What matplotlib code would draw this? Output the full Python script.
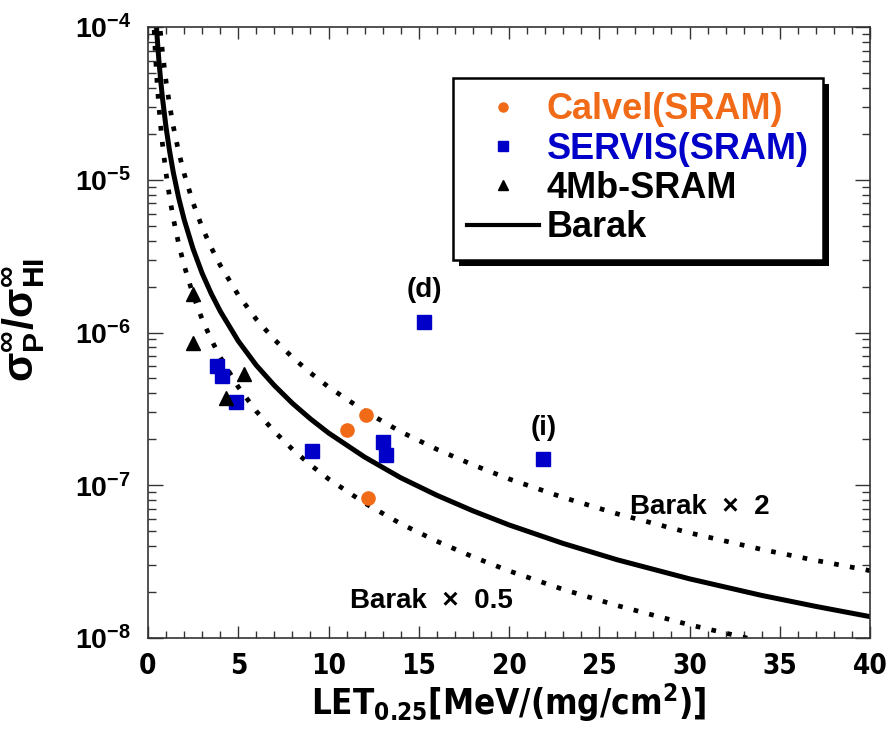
import matplotlib
matplotlib.use("Agg")
import matplotlib.pyplot as plt
from matplotlib import font_manager
from matplotlib.font_manager import FontProperties
from matplotlib.lines import Line2D
from matplotlib.ticker import FixedLocator, MultipleLocator, NullFormatter
import matplotlib.patheffects as pe

# pick fonts (a narrow bold face for the x axis texts if there is one)
names = {f.name for f in font_manager.fontManager.ttflist}
SANS = "Liberation Sans" if "Liberation Sans" in names else "DejaVu Sans"
narrow_file = None
for key in ["LiberationSansNarrow-Bold", "DejaVuSansCondensed-Bold",
            "RobotoCondensed-Bold", "OpenSans_Condensed-Bold"]:
    for f in font_manager.fontManager.ttflist:
        if key.lower() in f.fname.lower().replace(" ", ""):
            narrow_file = f.fname
            break
    if narrow_file:
        break

plt.rcParams["font.family"] = SANS
plt.rcParams["font.weight"] = "bold"
plt.rcParams["mathtext.fontset"] = "custom"
plt.rcParams["mathtext.rm"] = SANS + ":bold"
plt.rcParams["mathtext.bf"] = SANS + ":bold"
plt.rcParams["mathtext.it"] = SANS + ":bold"


def narrow(size):
    if narrow_file:
        return FontProperties(fname=narrow_file, size=size)
    return FontProperties(family=SANS, weight="bold", size=size)


# ---------------------------------------------------------------- data
# Barak curve, plus the x2 / x0.5 bands
let_curve = [0.3, 0.4, 0.5, 0.6, 0.7, 0.8, 1.0, 1.2, 1.4, 1.7, 2.0, 2.5, 3, 3.5,
             4, 5, 6, 7, 8, 9, 10, 12, 14, 16, 18, 20, 23, 26, 30, 34, 37, 40]
barak = [2.44e-4, 1.38e-4, 8.8e-5, 6.1e-5, 4.5e-5, 3.44e-5, 2.2e-5, 1.53e-5,
         1.12e-5, 7.6e-6, 5.5e-6, 3.52e-6, 2.44e-6, 1.8e-6, 1.38e-6, 8.8e-7,
         6.1e-7, 4.5e-7, 3.44e-7, 2.72e-7, 2.2e-7, 1.53e-7, 1.12e-7, 8.6e-8,
         6.8e-8, 5.5e-8, 4.16e-8, 3.25e-8, 2.44e-8, 1.9e-8, 1.61e-8, 1.38e-8]
barak_x2 = [4.88e-4, 2.76e-4, 1.76e-4, 1.22e-4, 9.0e-5, 6.88e-5, 4.4e-5, 3.06e-5,
            2.24e-5, 1.52e-5, 1.1e-5, 7.04e-6, 4.88e-6, 3.6e-6, 2.76e-6, 1.76e-6,
            1.22e-6, 9.0e-7, 6.88e-7, 5.44e-7, 4.4e-7, 3.06e-7, 2.24e-7, 1.72e-7,
            1.36e-7, 1.1e-7, 8.32e-8, 6.5e-8, 4.88e-8, 3.8e-8, 3.22e-8, 2.76e-8]
barak_x05 = [1.22e-4, 6.9e-5, 4.4e-5, 3.05e-5, 2.25e-5, 1.72e-5, 1.1e-5, 7.65e-6,
             5.6e-6, 3.8e-6, 2.75e-6, 1.76e-6, 1.22e-6, 9.0e-7, 6.9e-7, 4.4e-7,
             3.05e-7, 2.25e-7, 1.72e-7, 1.36e-7, 1.1e-7, 7.65e-8, 5.6e-8, 4.3e-8,
             3.4e-8, 2.75e-8, 2.08e-8, 1.63e-8, 1.22e-8, 9.5e-9, 8.05e-9, 6.9e-9]

calvel_x = [11.0, 12.1, 12.2]
calvel_y = [2.3e-7, 2.88e-7, 8.2e-8]

servis_x = [3.8, 4.1, 4.9, 9.1, 13.0, 13.2, 15.3, 21.9]
servis_y = [6.0e-7, 5.2e-7, 3.5e-7, 1.67e-7, 1.92e-7, 1.58e-7, 1.17e-6, 1.49e-7]

sram4_x = [2.5, 2.5, 5.3, 4.3]
sram4_y = [1.8e-6, 8.5e-7, 5.35e-7, 3.7e-7]

ytick_vals = [1e-8, 1e-7, 1e-6, 1e-5, 1e-4]
ytick_text = ["$\\mathdefault{10^{-8}}$", "$\\mathdefault{10^{-7}}$",
              "$\\mathdefault{10^{-6}}$", "$\\mathdefault{10^{-5}}$",
              "$\\mathdefault{10^{-4}}$"]
xtick_vals = [0, 5, 10, 15, 20, 25, 30, 35, 40]

ORANGE = "#f06a18"
BLUE = "#0000c8"

# ---------------------------------------------------------------- figure
fig = plt.figure(figsize=(8.92, 7.39), dpi=100)
ax = fig.add_axes([148 / 892, 1 - 638 / 739, 722 / 892, 611 / 739])

dots = (0, (1.0, 2.4))
ax.plot(let_curve, barak_x2, color="black", lw=3.4, linestyle=dots,
        dash_capstyle="butt")
ax.plot(let_curve, barak_x05, color="black", lw=3.4, linestyle=dots,
        dash_capstyle="butt")
ax.plot(let_curve, barak, color="black", lw=3.6)

ax.plot(calvel_x, calvel_y, "o", color=ORANGE, ms=9.5, mec=ORANGE)
ax.plot(servis_x, servis_y, "s", color=BLUE, ms=9.5, mec=BLUE)
ax.plot(sram4_x, sram4_y, "^", color="black", ms=9.5)

ax.set_yscale("log")
ax.set_xlim(0, 40)
ax.set_ylim(1e-8, 1e-4)

ax.xaxis.set_major_locator(FixedLocator(xtick_vals))
ax.xaxis.set_minor_locator(MultipleLocator(1))
ax.set_xticklabels([str(v) for v in xtick_vals], fontproperties=narrow(20))
ax.yaxis.set_major_locator(FixedLocator(ytick_vals))
ax.set_yticklabels(ytick_text, fontsize=20.5, fontweight="bold")
ax.yaxis.set_minor_formatter(NullFormatter())

ax.tick_params(which="both", direction="in", top=True, right=True, width=1.0,
               color="#333333")
ax.tick_params(axis="x", which="major", length=8.5, pad=10)
ax.tick_params(axis="x", which="minor", length=5)
ax.tick_params(axis="y", which="major", length=11, pad=12)
ax.tick_params(axis="y", which="minor", length=5.5)
for s in ax.spines.values():
    s.set_linewidth(1.2)
    s.set_color("#333333")

ax.set_xlabel("LET$_{\\mathdefault{0.25}}$[MeV/(mg/cm$^{\\mathdefault{2}}$)]",
              fontproperties=narrow(25))
ax.xaxis.set_label_coords(0.5, -0.072)
ax.set_ylabel("$\\mathdefault{σ_P^{∞}/σ_{HI}^{∞}}$", fontsize=31,
              fontweight="bold")
ax.yaxis.set_label_coords(-0.14, 0.52)

ax.text(15.3, 1.55e-6, "(d)", fontsize=20, fontweight="bold", ha="center",
        va="bottom")
ax.text(21.9, 1.95e-7, "(i)", fontsize=20, fontweight="bold", ha="center",
        va="bottom")
ax.text(26.7, 7.2e-8, "Barak  ×  2", fontsize=20, fontweight="bold",
        ha="left", va="center")
ax.text(11.2, 1.75e-8, "Barak  ×  0.5", fontsize=20, fontweight="bold",
        ha="left", va="center")

handles = [
    Line2D([], [], ls="none", marker="o", color=ORANGE, ms=6.5),
    Line2D([], [], ls="none", marker="s", color=BLUE, ms=6.5),
    Line2D([], [], ls="none", marker="^", color="black", ms=6.5),
    Line2D([], [], color="black", lw=3),
]
labels = ["Calvel(SRAM)", "SERVIS(SRAM)", "4Mb-SRAM", "Barak"]
leg = ax.legend(handles, labels, loc="upper right",
                bbox_to_anchor=(0.935, 0.9165), fontsize=26, frameon=True,
                fancybox=False, edgecolor="black", framealpha=1,
                borderpad=0.4, handlelength=2.0, handletextpad=0.2,
                labelspacing=0.12, borderaxespad=0)
leg.get_frame().set_linewidth(1.8)
leg.get_frame().set_path_effects([
    pe.SimplePatchShadow(offset=(4.5, -4.5), shadow_rgbFace="black", alpha=1),
    pe.Normal()])
for t, c in zip(leg.get_texts(), [ORANGE, BLUE, "black", "black"]):
    t.set_color(c)

fig.savefig("out.png", dpi=100)
